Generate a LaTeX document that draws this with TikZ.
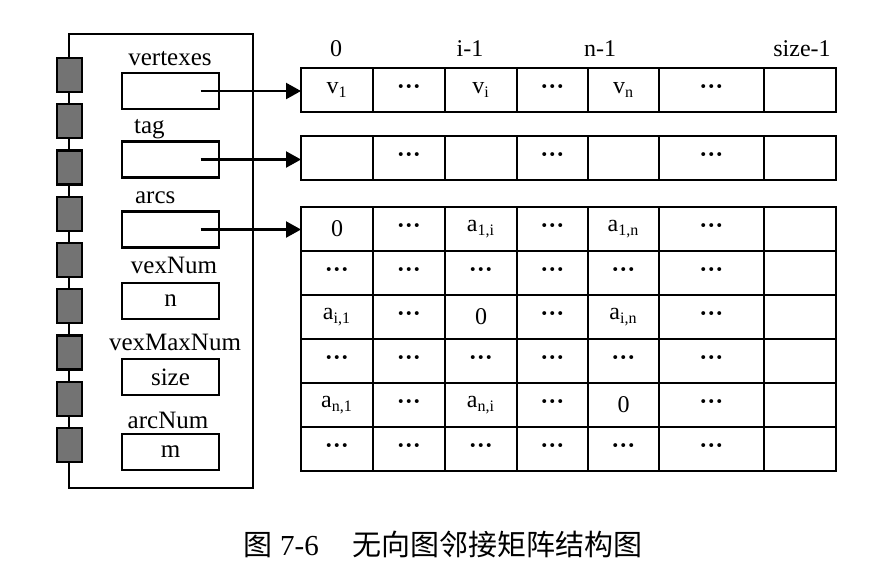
\documentclass[tikz,border=0pt]{standalone}
\usepackage{fontspec}
\setmainfont{Liberation Serif}
\newfontfamily\cjk{Noto Sans CJK SC}
\usepackage{tikz}
\usetikzlibrary{positioning, arrows.meta}

% column edges of the arrays (pixel units)
\def\colL{{301,373,445,517,588,659,764}}
\def\colR{{373,445,517,588,659,764,836}}
\newcommand{\dotcell}{\textbf{···}}
% one row of cells: name, top y, contents
\newcommand{\cellrow}[3]{%
    \foreach \t [count=\c] in {#3} {
        \pgfmathsetmacro\xl{\colL[\c-1]}
        \pgfmathsetmacro\xr{\colR[\c-1]}
        \pgfmathsetmacro\cw{(\xr-\xl)*0.5}
        \node[cell, minimum width=\cw pt] (#1-\c) at (\xl,#2) {\t};
    }}

\begin{document}
\begin{tikzpicture}[
        x=0.5pt, y=-0.5pt,
        line width=1.1pt,
        rec/.style   = {draw, rectangle, minimum width=92pt, minimum height=227pt, inner sep=0pt, outer sep=0pt},
        pin/.style   = {draw, fill=black!55, minimum width=12.5pt, minimum height=17pt, inner sep=0pt, outer sep=0pt},
        field/.style = {draw, rectangle, minimum width=48.5pt, minimum height=18pt, inner sep=0pt, outer sep=0pt, font=\fontsize{12.5}{14}\selectfont},
        flabel/.style = {inner sep=0pt, font=\fontsize{12.5}{14}\selectfont},
        cell/.style  = {draw, rectangle, anchor=north west, minimum height=22pt, inner sep=0pt, outer sep=0pt, font=\fontsize{12}{13}\selectfont},
        idx/.style   = {inner sep=0pt, anchor=base, font=\fontsize{12}{14}\selectfont},
        arrow/.style = {-{Triangle[length=7.5pt, width=8pt]}},
    ]
        \useasboundingbox (0,0) rectangle (874,586);

        % record with its fields
        \node[rec] (rec) at (161,261) {};
        \foreach \i in {0,...,8}
            \node[pin] (pin\i) at (69.5,75+46.25*\i) {};

        \node[field] (vtx) at (170.5,91) {};
        \node[field] (tag) at (170.5,159.5) {};
        \node[field] (arc) at (170.5,229.5) {};
        \node[field] (vnum) at (170.5,301) {n};
        \node[field] (vmax) at (170.5,377) {size};
        \node[field] (anum) at (170.5,452) {m};

        \node[flabel, anchor=base] (lvtx) at (170,65) {vertexes};
        \node[flabel, anchor=base west] (ltag) at (133,133) {tag};
        \node[flabel, anchor=base west] (larc) at (134,203) {arcs};
        \node[flabel, anchor=base] (lvnum) at (174,273) {vexNum};
        \node[flabel, anchor=base] (lvmax) at (175,350) {vexMaxNum};
        \node[flabel, anchor=base] (lanum) at (168,428) {arcNum};

        % arrays
        \node[idx] (i0) at (336,56) {0};
        \node[idx] (ii) at (470,56) {i-1};
        \node[idx] (in) at (600,56) {n-1};
        \node[idx] (is) at (802,56) {size-1};

        \cellrow{v}{68}{v\textsubscript{1}, \dotcell, v\textsubscript{i}, \dotcell, v\textsubscript{n}, \dotcell, {}}
        \cellrow{t}{136}{{}, \dotcell, {}, \dotcell, {}, \dotcell, {}}

        \cellrow{a1}{207}{0, \dotcell, {a\textsubscript{1,i}}, \dotcell, {a\textsubscript{1,n}}, \dotcell, {}}
        \cellrow{a2}{251}{\dotcell, \dotcell, \dotcell, \dotcell, \dotcell, \dotcell, {}}
        \cellrow{a3}{295}{{a\textsubscript{i,1}}, \dotcell, 0, \dotcell, {a\textsubscript{i,n}}, \dotcell, {}}
        \cellrow{a4}{339}{\dotcell, \dotcell, \dotcell, \dotcell, \dotcell, \dotcell, {}}
        \cellrow{a5}{383}{{a\textsubscript{n,1}}, \dotcell, {a\textsubscript{n,i}}, \dotcell, 0, \dotcell, {}}
        \cellrow{a6}{427}{\dotcell, \dotcell, \dotcell, \dotcell, \dotcell, \dotcell, {}}

        \draw[arrow] ([xshift=15pt]vtx.center) -- (vtx.center -| v-1.west);
        \draw[arrow] ([xshift=15pt]tag.center) -- (tag.center -| t-1.west);
        \draw[arrow] ([xshift=15pt]arc.center) -- (arc.center -| a1-1.west);

        % caption
        \node[inner sep=0pt, anchor=west, font=\fontsize{14.5}{16}\selectfont] (cap) at (242,544)
            {{\cjk 图}\hspace{4pt}7-6\hspace{17pt}{\cjk 无向图邻接矩阵结构图}};
    \end{tikzpicture}
\end{document}
